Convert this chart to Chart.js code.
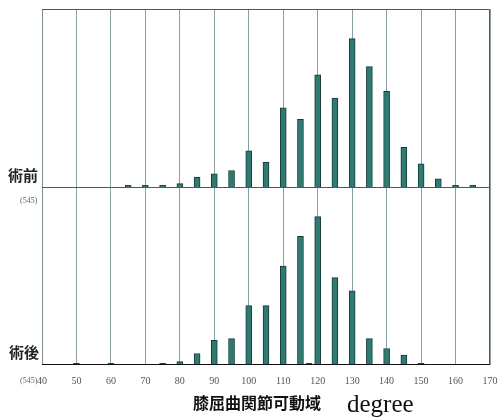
<!DOCTYPE html>
<html>
<head>
<meta charset="utf-8">
<script src="https://cdn.jsdelivr.net/npm/chart.js@4"></script>
<style>
  html, body { margin: 0; padding: 0; background: #fff; }
  #wrap { width: 499px; height: 417px; position: relative; }
</style>
</head>
<body>
<div id="wrap"><canvas id="c" width="499" height="417"></canvas></div>
<script>
// Knee flexion range of motion (degrees), number of knees per 5° bin
const xTickValues = [40, 50, 60, 70, 80, 90, 100, 110, 120, 130, 140, 150, 160, 170];

const preDegrees = [65, 70, 75, 80, 85, 90, 95, 100, 105, 110, 115, 120, 125, 130, 135, 140, 145, 150, 155, 160, 165];
const preCounts  = [1, 1, 1, 2, 6, 8, 10, 22, 15, 48, 41, 68, 54, 90, 73, 58, 24, 14, 5, 1, 1];

const postDegrees = [50, 60, 75, 80, 85, 90, 95, 100, 105, 110, 115, 117.5, 120, 125, 130, 135, 140, 145, 150];
const postCounts  = [1, 1, 1, 2, 7, 15, 16, 36, 36, 60, 78, 1, 90, 53, 45, 16, 10, 6, 1];

const panelLabels = ['術前', '術後'];
const sampleSize = '(545)';
const axisTitleJa = '膝屈曲関節可動域';
const axisTitleEn = 'degree';

const toPoints = (xs, ys) => xs.map((x, i) => ({ x: x, y: ys[i] }));

// Frame, panel divider and side / bottom captions
const framePlugin = {
  id: 'frame',
  afterDatasetsDraw(chart) {
    const { ctx, chartArea } = chart;
    const yPre = chart.scales.yPre;
    const yPost = chart.scales.yPost;
    const L = chartArea.left, R = chartArea.right, T = chartArea.top, B = chartArea.bottom;
    ctx.save();
    ctx.lineWidth = 1;
    // left edge
    ctx.strokeStyle = '#7f8f96';
    ctx.beginPath(); ctx.moveTo(L + 0.5, T); ctx.lineTo(L + 0.5, B); ctx.stroke();
    // top and right edges
    ctx.strokeStyle = '#555';
    ctx.beginPath();
    ctx.moveTo(L, T + 0.5); ctx.lineTo(R - 0.5, T + 0.5); ctx.lineTo(R - 0.5, B);
    ctx.stroke();
    // divider: baseline of the upper panel
    const mid = Math.round(yPre.bottom) + 0.5;
    ctx.strokeStyle = '#555';
    ctx.beginPath(); ctx.moveTo(L, mid); ctx.lineTo(R, mid); ctx.stroke();
    // baseline of the lower panel
    ctx.strokeStyle = '#111';
    ctx.beginPath(); ctx.moveTo(L, Math.round(B) - 0.5); ctx.lineTo(R, Math.round(B) - 0.5); ctx.stroke();

    // panel captions
    ctx.fillStyle = '#222';
    ctx.textAlign = 'left';
    ctx.textBaseline = 'middle';
    ctx.font = 'bold 15px "Noto Sans CJK JP"';
    ctx.fillText(panelLabels[0], 8, yPre.bottom - 12);
    ctx.fillText(panelLabels[1], 9, yPost.bottom - 13);
    ctx.fillStyle = '#666';
    ctx.font = '8px "Liberation Sans Narrow"';
    ctx.fillText(sampleSize, 20, yPre.bottom + 14);
    ctx.fillText(sampleSize, 20, yPost.bottom + 16);

    // x-axis caption
    ctx.fillStyle = '#111';
    ctx.font = 'bold 16px "Noto Sans CJK JP"';
    ctx.fillText(axisTitleJa, 193, 403);
    ctx.textBaseline = 'alphabetic';
    ctx.font = '25px "Liberation Serif"';
    ctx.fillText(axisTitleEn, 347, 412);
    ctx.restore();
  }
};

const barStyle = {
  backgroundColor: '#2f7a72',
  borderColor: '#173c38',
  borderWidth: 1,
  borderSkipped: 'bottom'
};

const hiddenY = (min, max) => ({
  type: 'linear',
  stack: 'panels',
  stackWeight: 1,
  min: min,
  max: max,
  ticks: { display: false },
  grid: { display: false },
  border: { display: false },
  afterFit: (s) => { s.width = 0; }
});

new Chart(document.getElementById('c'), {
  type: 'bar',
  data: {
    datasets: [
      Object.assign({ label: panelLabels[0], data: toPoints(preDegrees, preCounts), yAxisID: 'yPre' }, barStyle),
      Object.assign({ label: panelLabels[1], data: toPoints(postDegrees, postCounts), yAxisID: 'yPost' }, barStyle)
    ]
  },
  options: {
    responsive: false,
    animation: false,
    layout: { padding: { left: 42, right: 9, top: 9, bottom: 0 } },
    plugins: { legend: { display: false }, tooltip: { enabled: false } },
    datasets: { bar: { grouped: false, barThickness: 6 } },
    scales: {
      x: {
        type: 'linear',
        min: 40,
        max: 170,
        offset: false,
        afterBuildTicks: (s) => { s.ticks = xTickValues.map(v => ({ value: v })); },
        afterFit: (s) => { s.height = 52; s.paddingLeft = 0; s.paddingRight = 0; },
        grid: { color: '#8d9ea5', lineWidth: 1, drawTicks: false, offset: false },
        border: { display: false },
        ticks: {
          font: { family: 'Liberation Sans Narrow', size: 10 },
          color: '#555',
          padding: 10,
          maxRotation: 0,
          autoSkip: false
        }
      },
      // stacked left axes: the one listed last is placed on top
      yPost: hiddenY(0, 108),
      yPre: hiddenY(0, 108)
    }
  },
  plugins: [framePlugin]
});
</script>
</body>
</html>
